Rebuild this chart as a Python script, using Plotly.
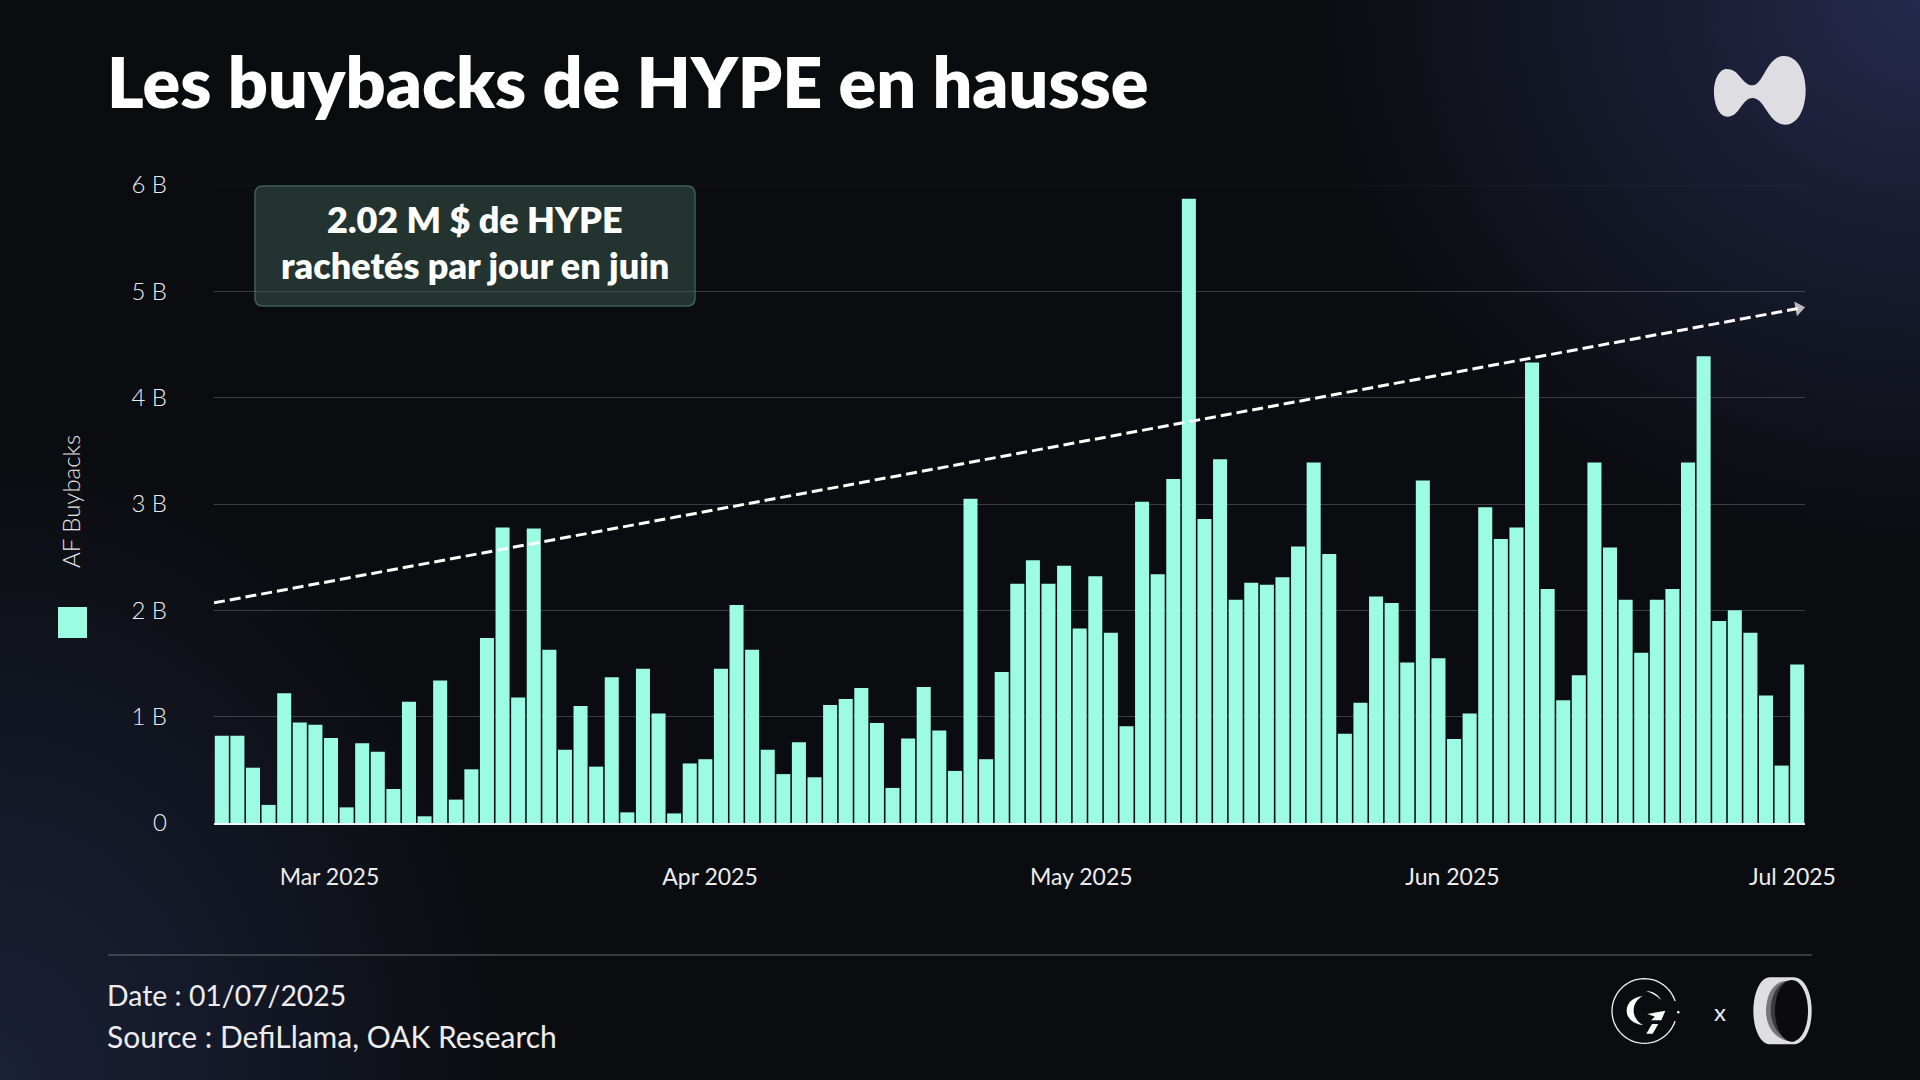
import re
import numpy as np
import plotly.graph_objects as go

W, H = 1920, 1080
LEFT, RIGHT, TOP, BOTTOM = 214, 1805, 185, 823

# values in billions, read bar by bar
buybacks = [
    0.82, 0.82, 0.52, 0.17, 1.22, 0.945, 0.925, 0.80, 0.147, 0.75,
    0.67, 0.32, 1.14, 0.063, 1.34, 0.22, 0.505, 1.74, 2.78, 1.18,
    2.77, 1.63, 0.69, 1.10, 0.53, 1.37, 0.10, 1.45, 1.03, 0.09,
    0.56, 0.60, 1.45, 2.05, 1.63, 0.69, 0.46, 0.76, 0.43, 1.11,
    1.165, 1.27, 0.94, 0.33, 0.795, 1.28, 0.87, 0.49, 3.05, 0.60,
    1.42, 2.25, 2.47, 2.25, 2.42, 1.83, 2.32, 1.79, 0.91, 3.02,
    2.34, 3.235, 5.87, 2.86, 3.42, 2.10, 2.26, 2.24, 2.31, 2.60,
    3.39, 2.53, 0.84, 1.13, 2.13, 2.07, 1.51, 3.22, 1.55, 0.79,
    1.03, 2.97, 2.67, 2.78, 4.33, 2.20, 1.155, 1.39, 3.39, 2.59,
    2.10, 1.60, 2.10, 2.20, 3.39, 4.39, 1.90, 2.00, 1.79, 1.20,
    0.54, 1.49,
]
bar_slots = list(range(len(buybacks)))

month_slots = [6.9, 31.3, 55.1, 78.9, 100.7]
month_labels = ['Mar 2025', 'Apr 2025', 'May 2025', 'Jun 2025', 'Jul 2025']
y_ticks = [0, 1, 2, 3, 4, 5, 6]
y_labels = ['0', '1 B', '2 B', '3 B', '4 B', '5 B', '6 B']

trend_slots = [-0.5, 101.1]
trend_values = [2.07, 4.84]

MINT = '#9CFBE3'
TEXT = '#ECECEE'
FONT = 'Lato'


def fx(x):
    return (x - LEFT) / (RIGHT - LEFT)


def fy(y):
    return (BOTTOM - y) / (BOTTOM - TOP)


def path(d, ox=0, oy=0, s=1.0):
    # d is written in canvas pixels (or zoomed pixels with ox, oy, s)
    nums = iter(re.findall(r'[A-Za-z]|-?\d+\.?\d*', d))
    out = []
    for tok in nums:
        if tok.isalpha():
            out.append(tok)
        else:
            x = ox + float(tok) * s
            y = oy + float(next(nums)) * s
            out.append(f'{fx(x):.5f},{fy(y):.5f}')
    return ' '.join(out)


def shape(d, fill, line='rgba(0,0,0,0)', width=0, **kw):
    return dict(type='path', xref='paper', yref='paper', path=d, fillcolor=fill,
                line=dict(color=line, width=width), layer='above', **kw)


def label(text, x, y, size, weight=400, anchor='left', color=TEXT, angle=0):
    return dict(text=text, x=fx(x), y=fy(y), xref='paper', yref='paper', showarrow=False,
                xanchor=anchor, yanchor='middle', textangle=angle,
                font=dict(family=FONT, size=size, color=color, weight=weight))


fig = go.Figure()
fig.add_trace(go.Bar(x=bar_slots, y=buybacks, marker=dict(color=MINT, line=dict(width=0)), width=0.9))
fig.add_trace(go.Scatter(x=trend_slots, y=trend_values, mode='lines+markers', cliponaxis=False,
                         line=dict(color='white', width=3, dash='11px,5px'),
                         marker=dict(symbol=['circle', 'triangle-right'], size=[0, 13], angle=[0, -10.5],
                                     color='white', line=dict(width=0))))

shapes = []
# faint top gridline
shapes.append(dict(type='line', xref='paper', yref='y', x0=0, x1=1, y0=6, y1=6,
                   line=dict(color='rgba(255,255,255,0.08)', width=1), layer='below'))
# callout box
shapes.append(shape(path('M 263 186 L 687 186 Q 695 186 695 194 L 695 298 Q 695 306 687 306 '
                         'L 263 306 Q 255 306 255 298 L 255 194 Q 255 186 263 186 Z'),
                    'rgba(62,95,86,0.48)', '#3E5E56', 1.5))
# legend swatch
shapes.append(dict(type='rect', xref='paper', yref='paper', x0=fx(58), x1=fx(87), y0=fy(638), y1=fy(607),
                   fillcolor=MINT, line=dict(width=0), layer='above'))
# footer rule
shapes.append(dict(type='line', xref='paper', yref='paper', x0=fx(108), x1=fx(1812), y0=fy(955), y1=fy(955),
                   line=dict(color='#6A6A6E', width=1.2), layer='above'))

# hyperliquid mark
shapes.append(shape(path('M 578 196 C 610 196 620 108 672 108 C 715 108 737 160 737 210 '
                         'C 737 265 715 314 676 314 C 625 314 615 234 578 234 C 545 234 540 290 503 290 '
                         'C 478 290 462 255 462 215 C 462 178 478 147 500 147 C 540 147 545 196 578 196 Z',
                         1560, 20, 1 / 3), '#DEDEE2'))

# G7 mark
angles = np.radians(np.arange(18, 343, 6))
ring = 'M ' + ' L '.join(f'{253 + 97 * np.cos(a):.1f} {213 - 97 * np.sin(a):.1f}' for a in angles)
shapes.append(shape(path(ring, 1560, 940, 1 / 3), 'rgba(0,0,0,0)', '#F2F2F2', 1.3))
shapes.append(shape(path('M 248 168 C 215 172 200 192 200 212 C 200 236 222 252 250 256 '
                         'C 232 246 221 230 221 212 C 221 194 230 178 248 168 Z', 1560, 940, 1 / 3), 'white'))
shapes.append(shape(path('M 258 153 C 280 154 296 164 303 180 C 292 168 278 160 258 153 Z', 1560, 940, 1 / 3), 'white'))
shapes.append(shape(path('M 262 222 L 316 212 L 304 241 L 273 241 L 285 230 Z', 1560, 940, 1 / 3), 'white'))
shapes.append(shape(path('M 276 252 L 295 252 L 278 281 L 259 281 Z', 1560, 940, 1 / 3), 'white'))
shapes.append(dict(type='circle', xref='paper', yref='paper', x0=fx(1677), x1=fx(1679.5), y0=fy(1011), y1=fy(1013.5),
                   fillcolor='white', line=dict(width=0), layer='above'))

# ring mark
shapes.append(shape(path('M 630 112 L 700 112 C 735 112 755 160 755 213 C 755 265 735 313 700 313 '
                         'L 630 313 C 600 313 580 265 580 213 C 580 160 600 112 630 112 Z',
                         1560, 940, 1 / 3), '#DFDFE3'))
shapes.append(shape(path('M 682 122 C 640 122 618 165 618 213 C 618 255 640 298 695 305 '
                         'C 720 300 720 130 682 122 Z', 1560, 940, 1 / 3), '#77777B'))
shapes.append(shape(path('M 685 122 C 650 130 632 170 632 213 C 632 255 660 298 700 305 '
                         'C 720 300 720 130 685 122 Z', 1560, 940, 1 / 3), '#3A3A3D'))
shapes.append(shape(path('M 695 120 C 668 120 645 160 645 213 C 645 265 668 305 695 305 '
                         'C 722 305 744 265 744 213 C 744 160 722 120 695 120 Z', 1560, 940, 1 / 3), '#0B0B0E'))

annotations = [
    label('Les buybacks de HYPE en hausse', 105, 81, 70, 800, color='white'),
    label('2.02 M $ de HYPE', 475, 219, 36, 800, 'center', 'white'),
    label('rachetés par jour en juin', 475, 265, 36, 800, 'center', 'white'),
    label('AF Buybacks', 70, 502, 24, 300, 'center', '#E6E6E8', -90),
    label('Date : 01/07/2025', 105, 995, 28.4, 400),
    label('Source : DefiLlama, OAK Research', 105, 1036, 30, 400),
    label('x', 1720, 1011, 24, 400, 'center'),
]

fig.update_layout(
    width=W, height=H,
    margin=dict(l=LEFT, r=W - RIGHT, t=TOP, b=H - BOTTOM, pad=0),
    paper_bgcolor='rgba(0,0,0,0)', plot_bgcolor='rgba(0,0,0,0)',
    showlegend=False, bargap=0.1, shapes=shapes, annotations=annotations,
    xaxis=dict(range=[-0.5, 101.5], tickmode='array', tickvals=month_slots, ticktext=month_labels,
               showgrid=False, zeroline=False, showline=True, linecolor='#F4F8F6', linewidth=2,
               ticks='', ticklabelstandoff=32, tickfont=dict(family=FONT, size=23, color=TEXT)),
    yaxis=dict(range=[0, 6], tickmode='array', tickvals=y_ticks, ticktext=y_labels,
               showgrid=True, gridcolor='rgba(255,255,255,0.2)', gridwidth=1, zeroline=False, showline=False,
               ticks='', ticklabelstandoff=46, tickfont=dict(family=FONT, size=24, color=TEXT, weight=300)),
)

# page background: dark with navy glow in two corners
bg = ("document.documentElement.style.background="
      "'radial-gradient(ellipse 620px 560px at 100% 0%, #252a4c 0%, rgba(30,34,62,0.75) 40%, rgba(11,12,15,0) 100%),"
      "radial-gradient(ellipse 520px 640px at 0% 100%, #1a2036 0%, rgba(24,30,50,0.7) 45%, rgba(11,12,15,0) 100%),"
      "#0B0C0F';"
      "document.body.style.margin='0';document.body.style.background='transparent';"
      "document.body.style.overflow='hidden';")
fig.write_html("out.html", post_script=bg, config={'displayModeBar': False})
